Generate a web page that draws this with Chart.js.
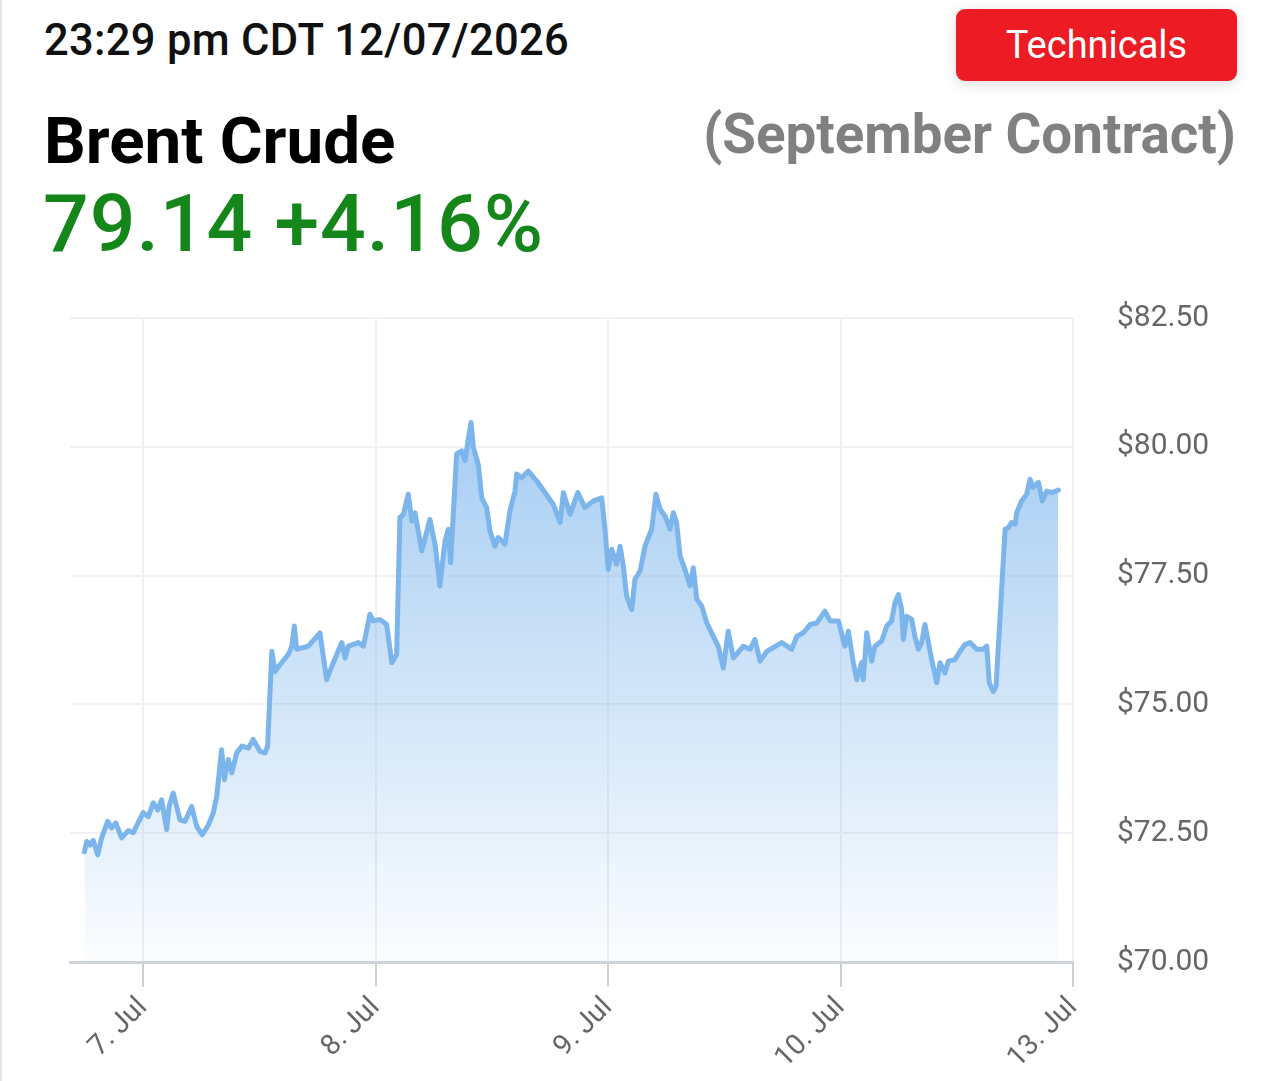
<!DOCTYPE html>
<html>
<head>
<meta charset="utf-8">
<script src="https://cdn.jsdelivr.net/npm/chart.js@4.4.1/dist/chart.umd.min.js"></script>
<style>
  html, body { margin:0; padding:0; background:#fff; }
  body { width:1280px; height:1081px; position:relative; overflow:hidden; font-family: Roboto, "Noto Sans", sans-serif; }
  .edge { position:absolute; left:0; top:0; width:2px; height:1081px; background:#e6e6e6; }
  #stamp { position:absolute; left:44px; top:15px; font-size:43.5px; font-weight:500; color:#111; white-space:nowrap; letter-spacing:0.3px; }
  #name { position:absolute; left:44px; top:102px; font-size:65.5px; font-weight:700; color:#000; white-space:nowrap; }
  #quote { position:absolute; left:43px; top:176px; font-size:80.5px; font-weight:500; color:#15861a; white-space:nowrap; letter-spacing:1px; }
  #contract { position:absolute; right:44px; top:102px; font-size:54.7px; font-weight:700; color:#808080; white-space:nowrap; }
  #btn { position:absolute; left:956px; top:9px; width:281px; height:72px; background:#ed1c24; border-radius:9px; color:#fff; font-size:38px; line-height:72px; text-align:center; box-shadow:0 3px 14px rgba(0,0,0,0.14); }
  #wrap { position:absolute; left:0; top:280px; width:1280px; height:801px; }
</style>
</head>
<body>
<div class="edge"></div>
<div id="stamp">23:29 pm CDT 12/07/2026</div>
<div id="btn">Technicals</div>
<div id="name">Brent Crude</div>
<div id="contract">(September Contract)</div>
<div id="quote">79.14 +4.16%</div>
<div id="wrap"><canvas id="c" width="1280" height="801"></canvas></div>
<script>
// x position in trading days (0 = 7 Jul, 1 = 8 Jul, 2 = 9 Jul, 3 = 10 Jul, 4 = 13 Jul)
const dayPos = [
 -0.252,-0.242,-0.228,-0.214,-0.195,-0.178,-0.152,-0.135,-0.117,-0.092,-0.063,-0.042,
 0.001,0.023,0.044,0.063,0.080,0.102,0.112,0.130,0.159,0.181,0.209,0.231,0.255,0.281,
 0.302,0.317,0.338,0.350,0.367,0.382,0.403,0.425,0.453,0.474,0.503,0.525,0.536,0.554,
 0.568,0.589,0.625,0.640,0.651,0.661,0.711,0.761,0.790,0.812,0.855,0.869,0.883,0.926,
 0.948,0.976,0.991,1.019,1.048,1.070,1.091,1.105,1.120,1.141,1.156,1.170,1.199,1.234,
 1.256,1.277,1.299,1.313,1.323,1.349,1.371,1.385,1.399,1.411,1.421,1.442,1.457,1.478,
 1.492,1.514,1.528,1.557,1.578,1.600,1.607,1.629,1.657,1.693,1.765,1.794,1.808,1.837,
 1.870,1.901,1.937,1.973,1.987,2.001,2.016,2.037,2.052,2.066,2.080,2.102,2.116,2.138,
 2.159,2.188,2.206,2.224,2.245,2.267,2.281,2.295,2.310,2.331,2.353,2.367,2.382,2.403,
 2.425,2.453,2.474,2.496,2.517,2.539,2.582,2.611,2.632,2.654,2.683,2.747,2.790,2.812,
 2.840,2.869,2.898,2.933,2.955,2.991,3.019,3.034,3.055,3.070,3.091,3.098,3.113,3.134,
 3.148,3.177,3.199,3.220,3.234,3.249,3.263,3.270,3.285,3.306,3.320,3.335,3.349,3.363,
 3.378,3.392,3.414,3.428,3.449,3.464,3.492,3.514,3.535,3.557,3.586,3.614,3.629,3.640,
 3.657,3.669,3.708,3.722,3.736,3.751,3.758,3.779,3.801,3.815,3.829,3.851,3.868,3.887,
 3.908,3.937
];
const prices = [
 72.14,72.34,72.27,72.36,72.08,72.41,72.73,72.60,72.70,72.41,72.55,72.51,
 72.90,72.82,73.09,72.95,73.15,72.57,73.02,73.28,72.76,72.73,73.02,72.63,72.47,72.66,
 72.89,73.21,74.12,73.54,73.93,73.67,74.06,74.19,74.15,74.32,74.09,74.06,74.19,76.03,
 75.64,75.77,75.97,76.13,76.52,76.07,76.13,76.39,75.48,75.74,76.20,75.90,76.13,76.20,
 76.13,76.75,76.62,76.65,76.55,75.81,75.97,78.63,78.69,79.08,78.56,78.72,77.98,78.59,
 78.11,77.30,78.17,78.40,77.75,79.86,79.92,79.73,80.15,80.47,79.99,79.66,79.01,78.82,
 78.37,78.07,78.24,78.11,78.75,79.14,79.47,79.40,79.53,79.34,78.88,78.53,79.11,78.69,
 79.11,78.82,78.95,79.01,78.40,77.62,78.01,77.72,78.07,77.68,77.10,76.84,77.43,77.59,
 78.07,78.40,79.08,78.79,78.66,78.40,78.72,78.53,77.88,77.62,77.30,77.65,77.04,76.91,
 76.58,76.32,76.13,75.71,76.42,75.90,76.13,76.07,76.26,75.84,76.03,76.20,76.07,76.32,
 76.39,76.55,76.58,76.81,76.62,76.62,76.13,76.42,75.81,75.48,75.81,75.48,76.39,75.84,
 76.13,76.23,76.52,76.62,76.97,77.13,76.84,76.26,76.71,76.65,76.32,76.07,76.20,76.55,
 76.20,75.87,75.42,75.81,75.61,75.84,75.87,76.03,76.16,76.20,76.07,76.07,76.13,75.42,
 75.25,75.35,78.40,78.43,78.53,78.50,78.72,78.95,79.08,79.37,79.21,79.31,78.95,79.14,
 79.11,79.16
];
const tickPos = [0, 1, 2, 3, 4];
const tickLabels = ['7. Jul', '8. Jul', '9. Jul', '10. Jul', '13. Jul'];
const yTicks = [70, 72.5, 75, 77.5, 80, 82.5];

const points = dayPos.map((x, i) => ({ x: x, y: prices[i] }));

const ctx = document.getElementById('c').getContext('2d');
new Chart(ctx, {
  type: 'line',
  data: {
    datasets: [{
      data: points,
      borderColor: '#7cb5ec',
      borderWidth: 5,
      borderJoinStyle: 'round',
      borderCapStyle: 'round',
      pointRadius: 0,
      tension: 0,
      fill: 'start',
      backgroundColor: (c) => {
        const a = c.chart.chartArea;
        if (!a) return 'rgba(124,181,236,0.4)';
        const g = c.chart.ctx.createLinearGradient(0, a.top, 0, a.bottom);
        g.addColorStop(0, 'rgba(124,181,236,0.8)');
        g.addColorStop(1, 'rgba(124,181,236,0.03)');
        return g;
      }
    }]
  },
  options: {
    responsive: false,
    animation: false,
    layout: { padding: { left: 70, top: 38, right: 0, bottom: 0 } },
    plugins: { legend: { display: false }, tooltip: { enabled: false } },
    scales: {
      x: {
        type: 'linear',
        min: -0.314,
        max: 4,
        afterBuildTicks: (s) => { s.ticks = tickPos.map(v => ({ value: v })); },
        afterFit: (s) => { s.height = 119; s.paddingLeft = 0; s.paddingRight = 0; s.paddingTop = 0; s.paddingBottom = 0; },
        ticks: {
          autoSkip: false,
          maxRotation: 45,
          minRotation: 45,
          padding: 4,
          color: '#666',
          font: { family: 'Roboto', size: 28.5 },
          callback: (v) => { const i = tickPos.indexOf(v); return i >= 0 ? tickLabels[i] : ''; }
        },
        grid: { color: '#f0f0f0', lineWidth: 2, tickLength: 25, tickColor: '#ccd0d6', tickWidth: 2, drawOnChartArea: true },
        border: { display: true, color: '#cfd4da', width: 3 }
      },
      y: {
        position: 'right',
        min: 70,
        max: 82.5,
        afterBuildTicks: (s) => { s.ticks = yTicks.map(v => ({ value: v })); },
        afterFit: (s) => { s.width = 207; s.paddingTop = 0; s.paddingBottom = 0; s.paddingLeft = 0; s.paddingRight = 0; },
        ticks: {
          padding: 44,
          color: '#666',
          font: { family: 'Roboto', size: 30 },
          callback: (v) => '$' + Number(v).toFixed(2)
        },
        grid: { color: '#f2f2f2', lineWidth: 2, drawTicks: false },
        border: { display: false }
      }
    }
  }
});
</script>
</body>
</html>
